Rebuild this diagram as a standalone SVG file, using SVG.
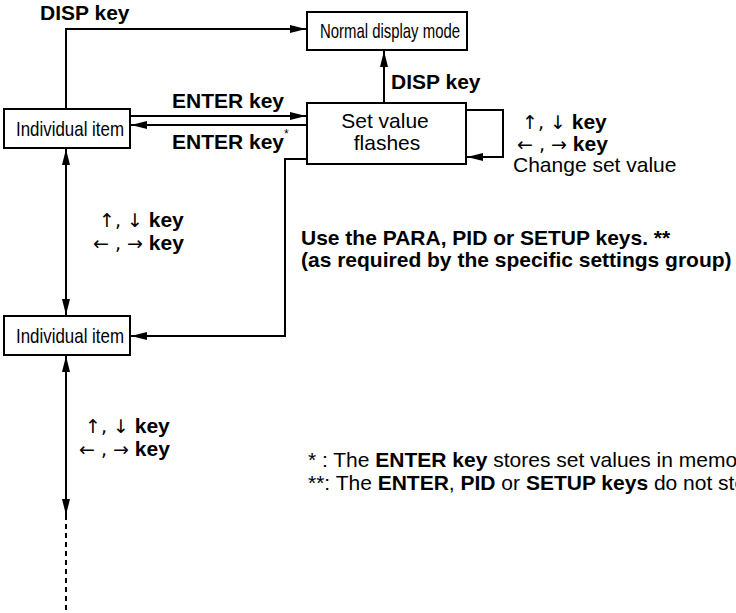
<svg xmlns="http://www.w3.org/2000/svg" width="736" height="613" viewBox="0 0 736 613">
<style>
.box{fill:#fff;stroke:#000;stroke-width:2}
.ln{fill:none;stroke:#000;stroke-width:2}
.nar{font-family:"Liberation Sans Narrow","Liberation Sans",Arial,sans-serif;font-size:21px;fill:#000}
.reg{font-family:"Liberation Sans",Arial,sans-serif;font-size:21px;fill:#000}
.b{font-family:"Liberation Sans",Arial,sans-serif;font-size:21px;font-weight:bold;fill:#000}
.ar{font-family:"DejaVu Sans",sans-serif;font-weight:normal;font-size:19px}
</style>
<defs>
<marker id="ah" markerUnits="userSpaceOnUse" markerWidth="16" markerHeight="8" refX="16" refY="4" orient="auto-start-reverse">
<path d="M0,0 L16,4 L0,8 z" fill="#000"/>
</marker>
</defs>
<g id="connectors">
<path class="ln" d="M66,109 V29 H306" marker-end="url(#ah)"/>
<path class="ln" d="M130,116 H306" marker-end="url(#ah)"/>
<path class="ln" d="M307,125 H131" marker-end="url(#ah)"/>
<path class="ln" d="M384,103 V51" marker-end="url(#ah)"/>
<path class="ln" d="M466,110 H503 V157 H467" marker-end="url(#ah)"/>
<path class="ln" d="M307,159 H285 V336 H131" marker-end="url(#ah)"/>
<path class="ln" d="M66,149 V315" marker-start="url(#ah)" marker-end="url(#ah)"/>
<path class="ln" d="M66,356 V515" marker-start="url(#ah)" marker-end="url(#ah)"/>
<path class="ln" d="M66,515 V613" stroke-dasharray="5,4"/>
</g>
<g id="normal-display-mode">
<rect class="box" x="307" y="12" width="160" height="38"/>
<text class="nar" x="320" y="38" font-size="18" textLength="140" lengthAdjust="spacingAndGlyphs">Normal display mode</text>
</g>
<g id="individual-item-1">
<rect class="box" x="4" y="109" width="126" height="39"/>
<text class="nar" x="16" y="136" textLength="108" lengthAdjust="spacingAndGlyphs">Individual item</text>
</g>
<g id="set-value-flashes">
<rect class="box" x="307" y="103" width="159" height="61"/>
<text class="reg" x="385" y="128" text-anchor="middle">Set value</text>
<text class="reg" x="387" y="150" text-anchor="middle">flashes</text>
</g>
<g id="individual-item-2">
<rect class="box" x="4" y="316" width="126" height="39"/>
<text class="nar" x="16" y="343" textLength="108" lengthAdjust="spacingAndGlyphs">Individual item</text>
</g>
<g id="labels">
<text class="b" x="40" y="20">DISP key</text>
<text class="b" x="172" y="108">ENTER key</text>
<text class="b" x="172" y="149">ENTER key<tspan font-size="12" font-weight="normal" dy="-11">*</tspan></text>
<text class="b" x="391" y="89">DISP key</text>
<text class="b" x="522" y="129"><tspan class="ar">↑, ↓</tspan> key</text>
<text class="b" x="517" y="151"><tspan class="ar">← , →</tspan> key</text>
<text class="reg" x="513" y="172">Change set value</text>
<text class="b" x="99" y="227"><tspan class="ar">↑, ↓</tspan> key</text>
<text class="b" x="93" y="250"><tspan class="ar">← , →</tspan> key</text>
<text class="b" x="301" y="245">Use the PARA, PID or SETUP keys. **</text>
<text class="b" x="301" y="267">(as required by the specific settings group)</text>
<text class="b" x="85" y="433"><tspan class="ar">↑, ↓</tspan> key</text>
<text class="b" x="79" y="456"><tspan class="ar">← , →</tspan> key</text>
<text class="reg" x="308" y="467">* : The <tspan class="b">ENTER key</tspan> stores set values in memory.</text>
<text class="reg" x="308" y="490">**: The <tspan class="b">ENTER</tspan>, <tspan class="b">PID</tspan> or <tspan class="b">SETUP keys</tspan> do not store set values.</text>
</g>
</svg>
